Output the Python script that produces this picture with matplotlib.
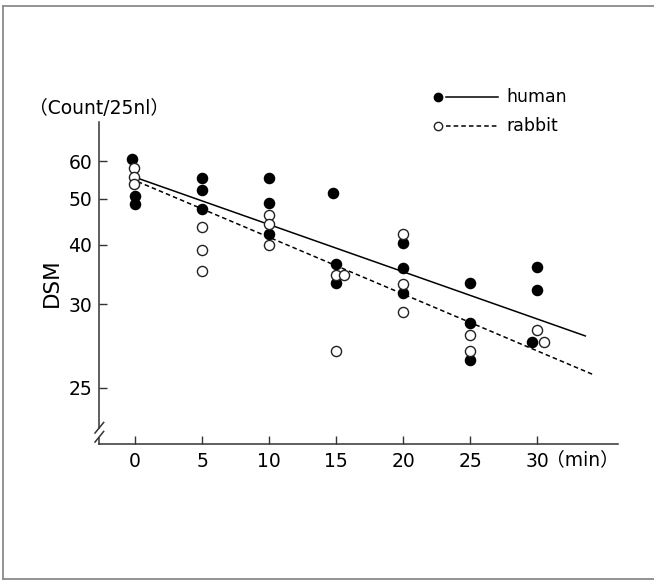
import matplotlib.pyplot as plt
from matplotlib.lines import Line2D

plt.rcParams['font.family'] = ['DejaVu Sans', 'Noto Sans CJK JP']

# data (DSM count per 25 nl vs minutes)
human_x = [-0.25, 0, 0, 5, 5, 5, 10, 10, 10, 14.8, 15, 15, 20, 20, 20, 25, 25, 25, 30, 30, 29.6]
human_y = [60.6, 50.7, 48.7, 55.3, 52.1, 47.5, 55.3, 49.0, 42.1, 51.3, 36.4, 33.2,
           40.3, 35.8, 31.6, 33.2, 27.3, 22.9, 35.9, 32.1, 25.0]
rabbit_x = [-0.1, -0.05, -0.05, 5, 5, 5, 10, 10, 10, 15, 15.6, 15, 20, 20, 20, 25, 25, 30, 30.5]
rabbit_y = [58.1, 55.6, 53.7, 43.6, 39.0, 35.2, 46.3, 44.2, 40.0, 34.6, 34.6, 23.9,
            42.1, 33.1, 28.9, 25.8, 23.9, 26.4, 25.0]

# fitted lines (end points as drawn)
human_fit_x = [0.2, 33.6]
human_fit_y = [55.2, 25.7]
rabbit_fit_x = [0.2, 34.2]
rabbit_fit_y = [54.3, 21.3]

x_ticks = [0, 5, 10, 15, 20, 25, 30]
y_ticks = [20, 30, 40, 50, 60]
y_tick_labels = ['25', '30', '40', '50', '60']

fig = plt.figure(figsize=(6.54, 5.81), dpi=100)
ax = fig.add_axes([99 / 654, 137 / 581, 519 / 654, 322 / 581])

ax.plot(human_fit_x, human_fit_y, color='black', lw=1.1, zorder=2)
ax.plot(rabbit_fit_x, rabbit_fit_y, color='black', lw=1.1, ls=(0, (3, 2)), zorder=2)
ax.plot(human_x, human_y, 'o', ms=7.3, mfc='black', mec='black', ls='none', zorder=3)
ax.plot(rabbit_x, rabbit_y, 'o', ms=7.3, mfc='white', mec='#222222', mew=1.0, ls='none', zorder=4)

ax.set_yscale('log')
ax.set_xlim(-2.69, 36.04)
ax.set_ylim(15.22, 72.5)
ax.set_xticks(x_ticks)
ax.set_xticklabels([str(t) for t in x_ticks])
ax.set_yticks(y_ticks)
ax.set_yticklabels(y_tick_labels)
ax.minorticks_off()
ax.tick_params(axis='both', direction='in', length=6, width=1.0, labelsize=13.5, color='#333333')
ax.tick_params(axis='y', pad=5)
ax.tick_params(axis='x', pad=6)

for s in ['top', 'right', 'left']:
    ax.spines[s].set_visible(False)
ax.spines['bottom'].set_linewidth(1.1)
ax.spines['bottom'].set_color('#333333')

# left spine with axis break
kw = dict(transform=ax.transAxes, color='#333333', lw=1.1, clip_on=False)
ax.add_line(Line2D([0, 0], [0.0497, 1.0], **kw))
ax.add_line(Line2D([0, 0], [0.0, 0.0186], **kw))
ax.add_line(Line2D([-0.0077, 0.009], [0.034, 0.067], **kw))
ax.add_line(Line2D([-0.0077, 0.009], [0.006, 0.039], **kw))

# legend drawn by hand
ax.plot([0.6526], [1.0767], 'o', ms=6, mfc='black', mec='black', transform=ax.transAxes, clip_on=False)
ax.add_line(Line2D([0.6678, 0.768], [1.0767, 1.0767], transform=ax.transAxes, color='black', lw=1.1, clip_on=False))
ax.text(0.7855, 1.0767, 'human', transform=ax.transAxes, fontsize=12.5, va='center', ha='left')
ax.plot([0.6526], [0.9885], 'o', ms=6, mfc='white', mec='#222222', mew=1.0, transform=ax.transAxes, clip_on=False)
ax.add_line(Line2D([0.6678, 0.768], [0.9885, 0.9885], transform=ax.transAxes, color='black', lw=1.1,
                   ls=(0, (3, 2)), clip_on=False))
ax.text(0.7855, 0.9885, 'rabbit', transform=ax.transAxes, fontsize=12.5, va='center', ha='left')

ax.text(0.862, -0.0475, '（min）', transform=ax.transAxes, fontsize=13.5, va='center', ha='left')
fig.text(29 / 654, 1 - 108 / 581, '（Count/25nl）', fontsize=13.5, va='center', ha='left')
fig.text(51.7 / 654, 1 - 283 / 581, 'DSM', fontsize=15.5, rotation=90, va='center', ha='center')

# frame around the figure
fkw = dict(transform=fig.transFigure, color='#8a8a8a', lw=1.3)
fig.add_artist(Line2D([3 / 654, 1], [1 - 5.5 / 581, 1 - 5.5 / 581], **fkw))
fig.add_artist(Line2D([3 / 654, 3 / 654], [1 - 5.5 / 581, 1 - 579 / 581], **fkw))
fig.add_artist(Line2D([3 / 654, 1], [1 - 579 / 581, 1 - 579 / 581], **fkw))

fig.savefig('out.png', dpi=100)
